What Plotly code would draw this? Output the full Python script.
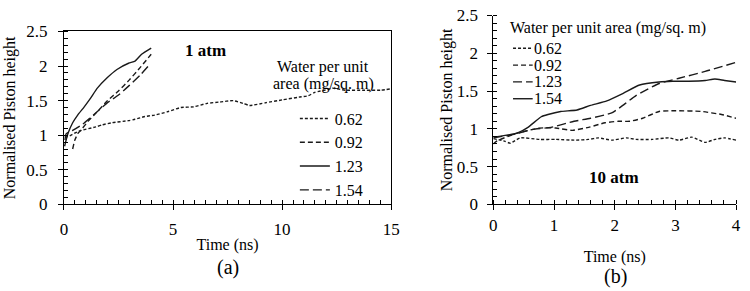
import plotly.graph_objects as go

FONT = "Liberation Serif, Times New Roman, serif"
W, H = 750, 291

# ---------------- Panel (a): 1 atm ----------------
a_t_062 = [0.05, 0.26, 0.7, 1.46, 1.76, 2.2, 2.96, 3.26, 3.71, 4.16, 4.76, 5.36, 5.95, 6.56,
           7.16, 7.76, 8.21, 8.51, 9.27, 10.0, 10.77, 11.2, 11.5, 12.1, 12.3, 12.9, 13.8, 14.5, 15.0]
a_h_062 = [0.97, 0.99, 1.06, 1.12, 1.15, 1.18, 1.21, 1.23, 1.27, 1.29, 1.34, 1.40, 1.41, 1.46,
           1.48, 1.50, 1.46, 1.43, 1.47, 1.51, 1.55, 1.57, 1.62, 1.66, 1.68, 1.65, 1.65, 1.65, 1.67]
a_t_092 = [0.4, 0.5, 0.65, 0.85, 1.1, 1.5, 2.0, 2.5, 3.0, 3.5, 4.0]
a_h_092 = [0.80, 0.93, 1.03, 1.10, 1.20, 1.33, 1.50, 1.64, 1.80, 1.98, 2.17]
a_t_123 = [0.03, 0.18, 0.4, 0.63, 0.93, 1.23, 1.53, 1.98, 2.43, 2.96, 3.26, 3.56, 4.0]
a_h_123 = [0.84, 1.02, 1.18, 1.29, 1.41, 1.54, 1.68, 1.83, 1.95, 2.04, 2.07, 2.17, 2.26]
a_t_154 = [0.05, 0.1, 0.4, 0.86, 1.38, 2.0, 2.5, 3.0, 3.5, 3.9]
a_h_154 = [0.93, 1.02, 1.07, 1.16, 1.30, 1.47, 1.58, 1.72, 1.87, 2.01]

# ---------------- Panel (b): 10 atm ----------------
b_t_062 = [0, 0.17, 0.28, 0.44, 0.76, 1.03, 1.36, 1.57, 1.73, 1.95, 2.19, 2.35, 2.62, 2.89,
           3.06, 3.27, 3.49, 3.65, 3.81, 4.0]
b_h_062 = [0.87, 0.84, 0.81, 0.88, 0.86, 0.86, 0.85, 0.86, 0.88, 0.85, 0.88, 0.86, 0.86, 0.88,
           0.85, 0.89, 0.82, 0.86, 0.88, 0.85]
b_t_092 = [0, 0.06, 0.38, 0.76, 1.03, 1.3, 1.57, 1.84, 2.06, 2.25, 2.46, 2.73, 3.0, 3.43, 3.76, 4.0]
b_h_092 = [0.80, 0.84, 0.94, 1.01, 1.01, 0.98, 1.02, 1.08, 1.10, 1.10, 1.14, 1.23, 1.24, 1.23, 1.19, 1.14]
b_t_123 = [0, 0.36, 0.63, 0.95, 1.33, 1.6, 1.95, 2.1, 2.35, 2.73, 3.06, 3.49, 4.0]
b_h_123 = [0.88, 0.93, 0.99, 1.02, 1.10, 1.14, 1.21, 1.29, 1.44, 1.60, 1.67, 1.76, 1.88]
b_t_154 = [0, 0.25, 0.41, 0.57, 0.79, 0.9, 1.11, 1.38, 1.6, 1.87, 2.14, 2.41, 2.73, 2.95,
           3.22, 3.49, 3.65, 3.81, 4.0]
b_h_154 = [0.89, 0.92, 0.95, 1.02, 1.16, 1.19, 1.23, 1.25, 1.31, 1.37, 1.47, 1.58, 1.62, 1.63,
           1.63, 1.64, 1.66, 1.64, 1.62]

labels = ["0.62", "0.92", "1.23", "1.54"]
DASH_SHORT = "3px,2px"
DASH_MED = "5px,3px"
DASH_LONG = "9px,4px"
a_dashes = [DASH_SHORT, DASH_MED, "solid", DASH_LONG]
b_dashes = [DASH_SHORT, DASH_MED, DASH_LONG, "solid"]
a_series = [(a_t_062, a_h_062), (a_t_092, a_h_092), (a_t_123, a_h_123), (a_t_154, a_h_154)]
b_series = [(b_t_062, b_h_062), (b_t_092, b_h_092), (b_t_123, b_h_123), (b_t_154, b_h_154)]

LC = "#1a1a1a"
fig = go.Figure()
for lab, dash, (t, h) in zip(labels, a_dashes, a_series):
    fig.add_trace(go.Scatter(x=t, y=h, mode="lines", name=lab, xaxis="x", yaxis="y",
                             line=dict(color=LC, width=1.4, dash=dash, shape="spline", smoothing=0.5),
                             showlegend=True, legend="legend"))
for lab, dash, (t, h) in zip(labels, b_dashes, b_series):
    fig.add_trace(go.Scatter(x=t, y=h, mode="lines", name=lab, xaxis="x2", yaxis="y2",
                             line=dict(color=LC, width=1.4, dash=dash, shape="spline", smoothing=0.5),
                             showlegend=False))

def px_x(p):
    return p / W

def px_y(p):
    return 1 - p / H

tickfont = dict(family=FONT, size=17, color="black")
titlefont = dict(family=FONT, size=16, color="black")

common = dict(showline=True, linecolor="black", linewidth=1, showgrid=False, zeroline=False,
              ticks="outside", ticklen=5, tickcolor="black", tickwidth=1, tickfont=tickfont)

fig.update_layout(
    width=W, height=H, autosize=False,
    margin=dict(l=0, r=0, t=0, b=0),
    paper_bgcolor="white", plot_bgcolor="white",
    font=dict(family=FONT, size=16, color="black"),
    xaxis=dict(domain=[px_x(61), px_x(394)], range=[0, 15], dtick=5, anchor="y", mirror=True,
               minor=dict(dtick=0.5, ticks="inside", ticklen=4, tickcolor="black"),
               ticklabelstandoff=4,
               title=dict(text="Time (ns)", font=titlefont, standoff=1), **common),
    yaxis=dict(domain=[px_y(209), px_y(24)], range=[0, 2.5], dtick=0.5, anchor="x", mirror=True,
               minor=dict(dtick=0.1, ticks="inside", ticklen=4, tickcolor="black"),
               ticklabelstandoff=7,
               title=dict(text="Normalised Piston height", font=titlefont, standoff=6),
               **common),
    xaxis2=dict(domain=[px_x(498), px_x(745)], range=[0, 4], dtick=1, anchor="y2",
                minor=dict(dtick=0.2, ticks="inside", ticklen=4, tickcolor="black"),
                title=dict(text="Time (ns)", font=titlefont, standoff=17), **common),
    yaxis2=dict(domain=[px_y(209), px_y(7)], range=[0, 2.5], dtick=0.5, anchor="x2",
                minor=dict(dtick=0.1, ticks="inside", ticklen=4, tickcolor="black"),
                ticklabelstandoff=6,
                title=dict(text="Normalised Piston height", font=titlefont, standoff=0), **common),
    legend=dict(x=px_x(296), y=px_y(99), xanchor="left", yanchor="top",
                bgcolor="rgba(0,0,0,0)", font=dict(family=FONT, size=16, color="black"),
                traceorder="normal", itemwidth=30),
)

def note(text, x, y, size=16, xanchor="center", xref="paper", yref="paper", pad=1):
    return dict(text=text, x=x, y=y, xref=xref, yref=yref, showarrow=False,
                xanchor=xanchor, yanchor="middle", borderpad=pad,
                font=dict(family=FONT, size=size, color="black"))

ann = [
    note("<b>1 atm</b>", 6.5, 2.22, 17, xref="x", yref="y"),
    note("<b>10 atm</b>", 1.98, 0.36, 17, xref="x2", yref="y2"),
    note("Water per unit", px_x(325), px_y(62)),
    note("area (mg/sq. m)", px_x(325), px_y(80)),
    note("(a)", px_x(228), px_y(277), 20),
    note("(b)", px_x(622), px_y(286), 20),
    note("Water per unit area (mg/sq. m)", px_x(513), px_y(20), 16, xanchor="left"),
]
# right-panel legend (drawn compactly)
shapes = []
rows = [42, 60, 78, 96]
for lab, dash, ry in zip(labels, b_dashes, rows):
    ann.append(note(lab, px_x(538), px_y(ry), 16, xanchor="left", pad=0))
    shapes.append(dict(type="line", xref="paper", yref="paper", x0=px_x(518), x1=px_x(538),
                       y0=px_y(ry), y1=px_y(ry), line=dict(color=LC, width=1.4, dash=dash)))

fig.update_layout(annotations=ann, shapes=shapes)
fig.write_html("out.html")
